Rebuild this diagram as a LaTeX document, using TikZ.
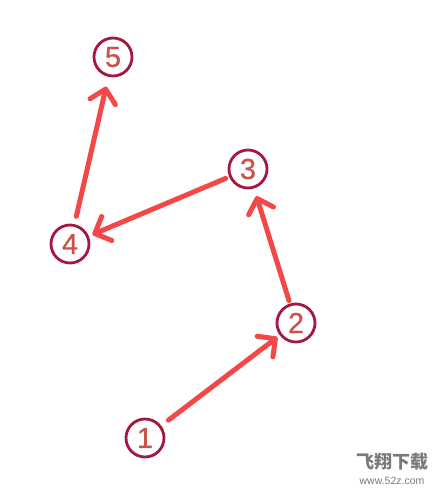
\documentclass[tikz,border=0pt]{standalone}
\usepackage{fontspec}
\setmainfont{Liberation Sans}
\newfontfamily\cjk{Noto Sans CJK SC}
\newfontfamily\numfont[FakeBold=0.7]{Liberation Sans}
\usetikzlibrary{arrows.meta}
\definecolor{arrowred}{HTML}{F44848}
\definecolor{ringred}{HTML}{A3183E}
\definecolor{numred}{HTML}{C9544C}
\definecolor{wmgray}{HTML}{7A7A7A}
\tikzset{
  num/.style={circle, draw=ringred, line width=2.8pt, minimum size=38pt, inner sep=0pt,
    text=numred, font=\numfont\fontsize{29}{29}\selectfont},
  link/.style={draw=arrowred, line width=5pt, line cap=round,
    -{Straight Barb[length=13pt, width=26pt, line width=5pt, line cap=round, round]}},
}
\begin{document}
\begin{tikzpicture}[x=1pt, y=-1pt]
\useasboundingbox (0,0) rectangle (446,491);
\node[num] (n1) at (145,438) {1};
\node[num] (n2) at (296,323) {2};
\node[num] (n3) at (248,169) {3};
\node[num] (n4) at (70,244) {4};
\node[num] (n5) at (113,57) {5};
\draw[link, shorten <=9pt, shorten >=3pt] (n1) -- (n2);
\draw[link, shorten <=3pt, shorten >=8pt] (n2) -- (n3);
\draw[link, shorten <=4pt, shorten >=4pt] (n3) -- (n4);
\draw[link, shorten <=8pt, shorten >=10pt] (n4) -- (n5);
\node[text=wmgray, font=\cjk\bfseries\fontsize{18}{18}\selectfont, anchor=center] (wm1) at (392,462) {飞翔下载};
\node[text=wmgray, font=\fontsize{10.5}{10.5}\selectfont, anchor=center] (wm2) at (392,481) {www.52z.com};
\end{tikzpicture}
\end{document}
